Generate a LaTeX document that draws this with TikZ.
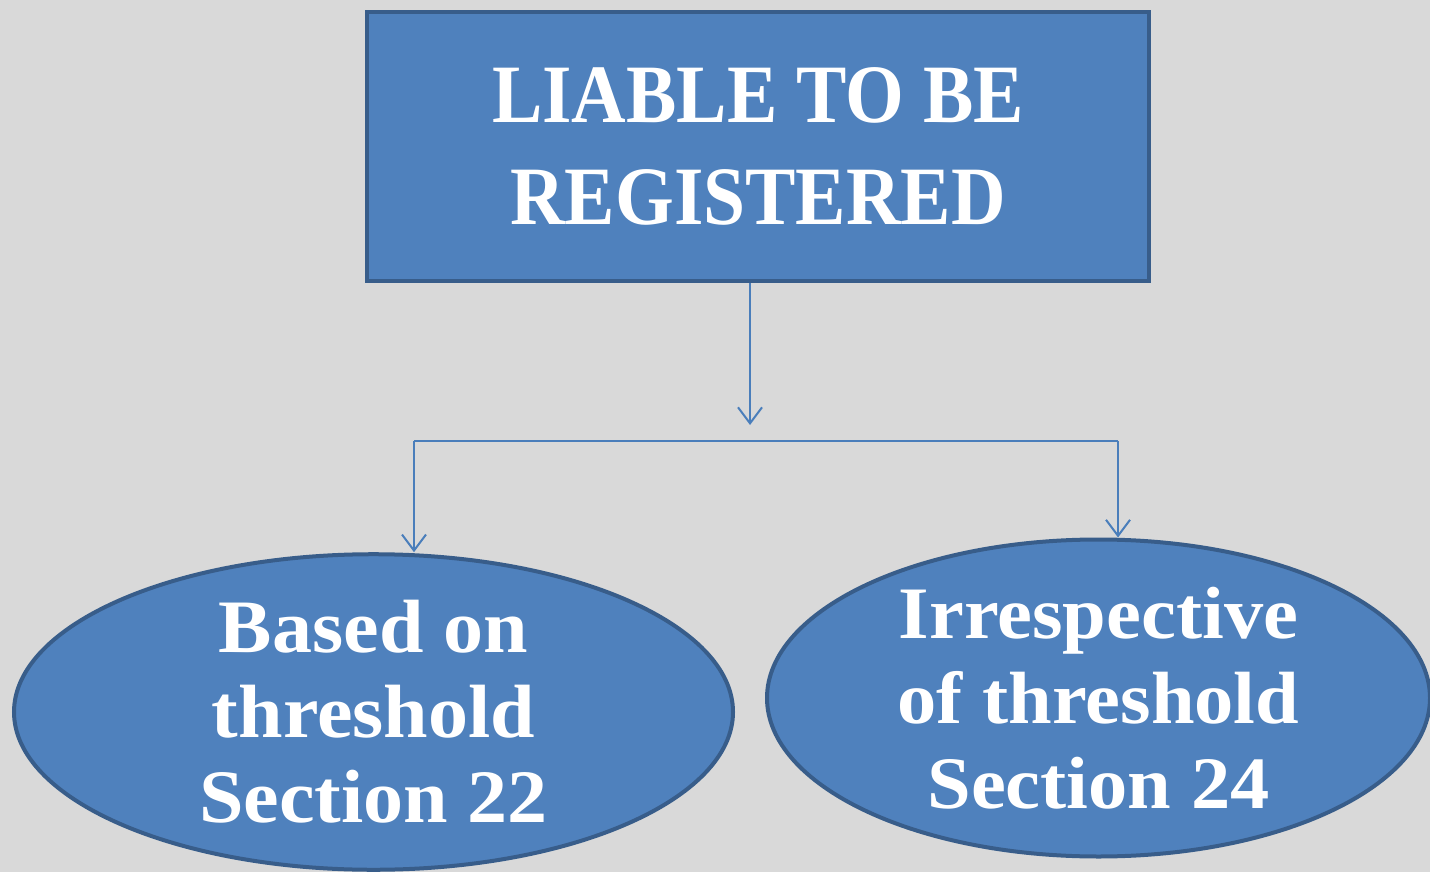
\documentclass[tikz,border=0pt]{standalone}
\usepackage{fontspec}
\setmainfont{Liberation Serif}
\newfontfamily\titlefont[FakeStretch=0.91]{Liberation Serif}
\newfontfamily\ellfont[FakeStretch=1.06]{Liberation Serif}
\usetikzlibrary{shapes.geometric,arrows.meta}
\definecolor{bgc}{HTML}{D9D9D9}
\definecolor{fillc}{HTML}{4F81BD}
\definecolor{edgec}{HTML}{385D8A}
\definecolor{linec}{HTML}{4A7EBB}
\begin{document}
\begin{tikzpicture}[x=1pt,y=-1pt,
  titlebox/.style={rectangle, draw=edgec, fill=fillc, line width=4pt, inner sep=0pt,
    minimum width=782pt, minimum height=269pt, text=white, align=center,
    font=\titlefont\bfseries\fontsize{83}{102}\selectfont},
  ellbox/.style={ellipse, draw=edgec, fill=fillc, line width=4pt, inner sep=0pt,
    text=white, align=center},
  conn/.style={draw=linec, line width=2pt},
  arr/.style={conn, -{Straight Barb[length=16pt,width=24pt,line width=2pt]}}]
\fill[bgc] (0,0) rectangle (1430,872);
\useasboundingbox (0,0) rectangle (1430,872);
\node[titlebox] (top) at (758,146.5) {LIABLE TO BE\\REGISTERED};
\node[ellbox, minimum width=719pt, minimum height=314pt,
  font=\ellfont\bfseries\fontsize{75.5}{85}\selectfont] (L) at (373.5,712) {Based on\\threshold\\Section 22};
\node[ellbox, minimum width=663pt, minimum height=317pt,
  font=\ellfont\bfseries\fontsize{74}{85}\selectfont] (R) at (1098.5,698) {Irrespective\\of threshold\\Section 24};
\coordinate (a1) at (750,425);
\coordinate (j1) at (414,441);
\coordinate (j2) at (1118,441);
\draw[arr] (a1 |- top.south) -- (a1);
\draw[conn] (j1) -- (j2);
\draw[arr] (j1) -- (j1 |- L.north);
\draw[arr] (j2) -- (j2 |- R.north);
\end{tikzpicture}
\end{document}
